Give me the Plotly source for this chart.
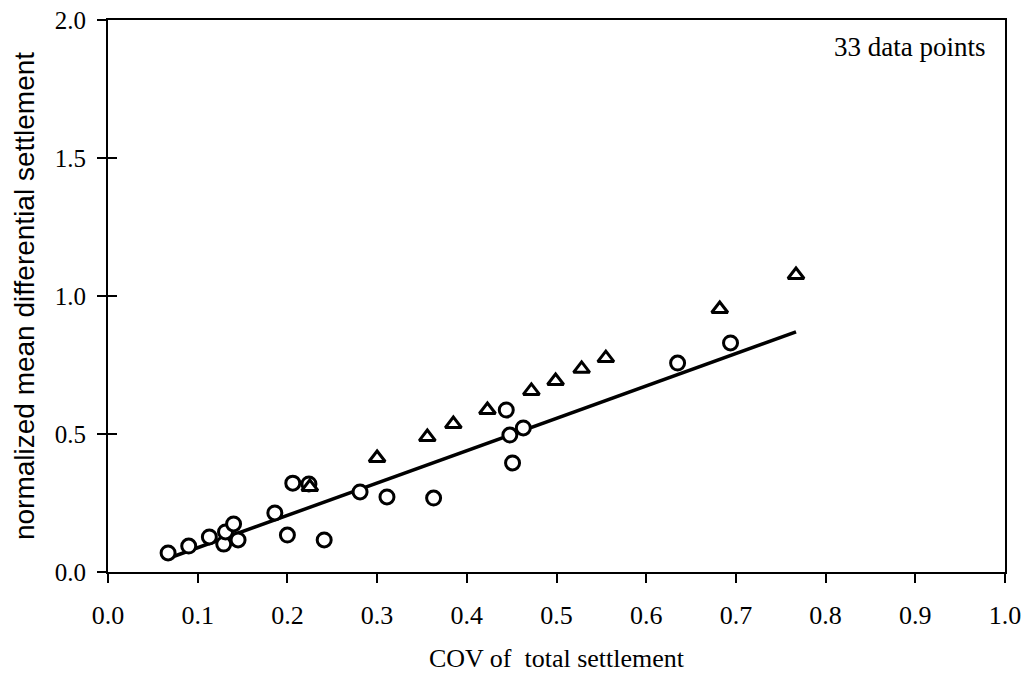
import plotly.graph_objects as go

# Circles (one group of cases)
circle_x = [0.067, 0.090, 0.113, 0.129, 0.131, 0.140, 0.145, 0.186, 0.200, 0.206,
            0.224, 0.241, 0.281, 0.311, 0.363, 0.444, 0.448, 0.451, 0.463, 0.635, 0.694]
circle_y = [0.069, 0.094, 0.127, 0.101, 0.145, 0.174, 0.116, 0.214, 0.134, 0.322,
            0.319, 0.116, 0.290, 0.272, 0.268, 0.587, 0.496, 0.395, 0.522, 0.757, 0.830]

# Triangles (second group of cases)
tri_x = [0.225, 0.300, 0.356, 0.385, 0.423, 0.472, 0.499, 0.528, 0.555, 0.682, 0.767]
tri_y = [0.308, 0.413, 0.489, 0.536, 0.587, 0.656, 0.692, 0.736, 0.775, 0.953, 1.076]

# Fitted line
fit_x = [0.066, 0.767]
fit_y = [0.048, 0.870]

x_ticks = [0.0, 0.1, 0.2, 0.3, 0.4, 0.5, 0.6, 0.7, 0.8, 0.9, 1.0]
y_ticks = [0.0, 0.5, 1.0, 1.5, 2.0]

SERIF = "Liberation Serif"
SANS = "Liberation Sans"

fig = go.Figure()

fig.add_trace(go.Scatter(
    x=fit_x, y=fit_y, mode="lines",
    line=dict(color="black", width=3.5),
    showlegend=False, hoverinfo="skip"))

fig.add_trace(go.Scatter(
    x=circle_x, y=circle_y, mode="markers",
    marker=dict(symbol="circle", size=14, color="white",
                line=dict(color="black", width=3)),
    showlegend=False))

fig.add_trace(go.Scatter(
    x=tri_x, y=tri_y, mode="markers",
    marker=dict(symbol="triangle-up", size=14, color="white",
                line=dict(color="black", width=3)),
    showlegend=False))

# invisible trace on the overlay axis so that the inner y ticks are drawn
fig.add_trace(go.Scatter(x=fit_x, y=fit_y, yaxis="y2", mode="markers",
                         marker=dict(opacity=0), showlegend=False,
                         hoverinfo="skip"))

fig.add_annotation(x=0.894, y=1.902, xref="x", yref="y", text="33 data points",
                   showarrow=False, font=dict(family=SERIF, size=27, color="black"))

fig.update_layout(
    width=1026, height=682,
    margin=dict(l=108, r=21, t=20, b=110),
    paper_bgcolor="white", plot_bgcolor="white",
    font=dict(family=SERIF, size=25, color="black"),
    xaxis=dict(
        range=[0.0, 1.0], tickvals=x_ticks,
        ticktext=[f"{v:.1f}" for v in x_ticks],
        tickfont=dict(family=SERIF, size=26),
        showgrid=False, zeroline=False, automargin=False,
        showline=True, linecolor="black", linewidth=2, mirror=True,
        ticks="outside", ticklen=9, tickwidth=1.5, tickcolor="black",
        ticklabelstandoff=10,
        title=dict(text="COV of  total settlement", standoff=20,
                   font=dict(family=SERIF, size=26)),
    ),
    yaxis=dict(
        range=[0.0, 2.0], tickvals=y_ticks,
        ticktext=[f"{v:.1f}" for v in y_ticks],
        tickfont=dict(family=SERIF, size=25),
        showgrid=False, zeroline=False, automargin=False,
        showline=True, linecolor="black", linewidth=2, mirror=True,
        ticks="outside", ticklen=9, tickwidth=1.5, tickcolor="black",
        ticklabelstandoff=6,
        title=dict(text="normalized mean differential settlement", standoff=12,
                   font=dict(family=SANS, size=28)),
    ),
    yaxis2=dict(
        range=[0.0, 2.0], tickvals=y_ticks, overlaying="y", side="left",
        anchor="x",
        showticklabels=False, showgrid=False, zeroline=False, showline=False,
        automargin=False,
        ticks="inside", ticklen=9, tickwidth=1.5, tickcolor="black",
    ),
)

fig.write_html("out.html")
